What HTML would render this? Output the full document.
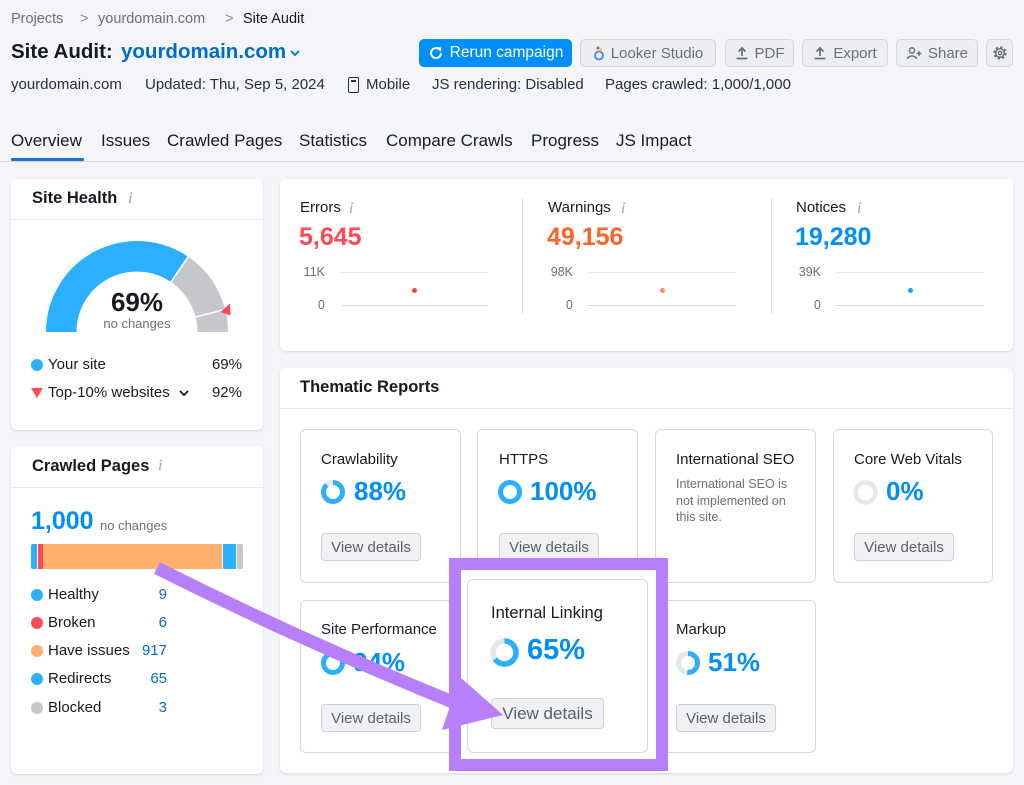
<!DOCTYPE html>
<html><head><meta charset="utf-8">
<style>
*{margin:0;padding:0;box-sizing:border-box}
body{width:1024px;height:785px;overflow:hidden;background:#f4f5f9;font-family:"Liberation Sans",Arial,sans-serif;color:#171a22}
#p{position:relative;width:1024px;height:785px;overflow:hidden;background:#f4f5f9}
.t{position:absolute;white-space:nowrap;line-height:1}
.card{position:absolute;background:#fff;border-radius:6px;box-shadow:0 1px 2px rgba(25,27,35,.14)}
.hdiv{position:absolute;left:0;right:0;height:1px;background:#e6e7ec}
.btn{position:absolute;height:28px;border-radius:5px;background:#eceef2;border:1px solid #d6d8de;color:#6c6e79;font-size:15px;display:flex;align-items:center;justify-content:center;gap:6px;white-space:nowrap}
.box{position:absolute;background:#fff;border:1px solid #d6d8de;border-radius:6px}
.vd{position:absolute;width:100px;height:28px;border:1px solid #cfd1d8;background:#f0f1f4;border-radius:4px;color:#5c5f6a;font-size:15px;display:flex;align-items:center;justify-content:center;white-space:nowrap}
.pct{position:absolute;white-space:nowrap;line-height:1;font-weight:bold;color:#008ff8;font-size:26px}
.info{position:absolute;font-family:"Liberation Serif",serif;font-style:italic;color:#a3a5ad;font-size:16px;line-height:1}
.dot{position:absolute;width:12px;height:12px;border-radius:50%}
.num{position:absolute;width:40px;text-align:right;color:#006dca;font-size:15px;line-height:1}
</style></head><body><div id="p">

<!-- breadcrumb -->
<div class="t" style="left:11px;top:12px;font-size:14.5px;color:#6c6e79">Projects</div>
<div class="t" style="left:80px;top:12px;font-size:14.5px;color:#8a8c95">&gt;</div>
<div class="t" style="left:98px;top:12px;font-size:14.5px;color:#6c6e79">yourdomain.com</div>
<div class="t" style="left:225px;top:12px;font-size:14.5px;color:#8a8c95">&gt;</div>
<div class="t" style="left:243px;top:12px;font-size:14.5px;color:#171a22">Site Audit</div>

<!-- title -->
<div class="t" style="left:11px;top:42px;font-size:20.5px;font-weight:bold">Site Audit:</div>
<div class="t" style="left:121px;top:42px;font-size:20.5px;font-weight:bold;color:#006dca">yourdomain.com</div>
<svg style="position:absolute;left:289px;top:48px" width="12" height="10"><path d="M2 3 L6 7 L10 3" stroke="#006dca" stroke-width="1.8" fill="none"/></svg>

<!-- buttons -->
<div class="btn" style="left:419px;top:39px;width:153px;background:#008ff8;border-color:#008ff8;color:#fff;font-size:15.5px">
<svg width="16" height="16" viewBox="0 0 16 16"><path d="M13 8 A5 5 0 1 1 11.5 4.5" stroke="#fff" stroke-width="2" fill="none"/><path d="M9 2 L13.5 2.5 L12.5 7 Z" fill="#fff"/></svg>Rerun campaign</div>
<div class="btn" style="left:580px;top:39px;width:136px">
<svg width="12" height="16" viewBox="0 0 12 16"><circle cx="6" cy="10.5" r="4" stroke="#4285f4" stroke-width="1.8" fill="none"/><circle cx="5" cy="3" r="1.5" fill="#ea4335"/><circle cx="8" cy="4.5" r="1" fill="#fbbc04"/></svg>Looker Studio</div>
<div class="btn" style="left:725px;top:39px;width:69px">
<svg width="14" height="14" viewBox="0 0 14 14"><path d="M7 10 V2 M3.5 5.5 L7 2 L10.5 5.5 M1.5 12.5 H12.5" stroke="#6c6e79" stroke-width="1.7" fill="none"/></svg>PDF</div>
<div class="btn" style="left:802px;top:39px;width:86px">
<svg width="14" height="14" viewBox="0 0 14 14"><path d="M7 10 V2 M3.5 5.5 L7 2 L10.5 5.5 M1.5 12.5 H12.5" stroke="#6c6e79" stroke-width="1.7" fill="none"/></svg>Export</div>
<div class="btn" style="left:896px;top:39px;width:82px">
<svg width="16" height="14" viewBox="0 0 16 14"><circle cx="6" cy="4.5" r="2.6" stroke="#6c6e79" stroke-width="1.5" fill="none"/><path d="M1.5 13 C1.5 9 10.5 9 10.5 13" stroke="#6c6e79" stroke-width="1.5" fill="none"/><path d="M13 5 V10 M10.5 7.5 H15.5" stroke="#6c6e79" stroke-width="1.5"/></svg>Share</div>
<div class="btn" style="left:986px;top:39px;width:27px">
<svg width="16" height="16" viewBox="0 0 16 16"><circle cx="8" cy="8" r="5.3" stroke="#6c6e79" stroke-width="2.6" stroke-dasharray="2.2 1.95" fill="none"/><circle cx="8" cy="8" r="4.3" stroke="#6c6e79" stroke-width="1.4" fill="none"/><circle cx="8" cy="8" r="1.7" stroke="#6c6e79" stroke-width="1.4" fill="none"/></svg></div>

<!-- meta line -->
<div class="t" style="left:11px;top:77px;font-size:15px;color:#2b2e38">yourdomain.com</div>
<div class="t" style="left:145px;top:77px;font-size:15px;color:#2b2e38">Updated: Thu, Sep 5, 2024</div>
<div style="position:absolute;left:348px;top:77px;width:11px;height:16px;border:1.6px solid #2b2e38;border-radius:2px"></div>
<div style="position:absolute;left:351px;top:80px;width:5px;height:1.5px;background:#2b2e38"></div>
<div class="t" style="left:366px;top:77px;font-size:15px;color:#2b2e38">Mobile</div>
<div class="t" style="left:432px;top:77px;font-size:15px;color:#2b2e38">JS rendering: Disabled</div>
<div class="t" style="left:605px;top:77px;font-size:15px;color:#2b2e38">Pages crawled: 1,000/1,000</div>

<!-- tabs -->
<div class="t" style="left:11px;top:132px;font-size:17px">Overview</div>
<div class="t" style="left:101px;top:132px;font-size:17px">Issues</div>
<div class="t" style="left:167px;top:132px;font-size:17px">Crawled Pages</div>
<div class="t" style="left:299px;top:132px;font-size:17px">Statistics</div>
<div class="t" style="left:386px;top:132px;font-size:17px">Compare Crawls</div>
<div class="t" style="left:531px;top:132px;font-size:17px">Progress</div>
<div class="t" style="left:616px;top:132px;font-size:17px">JS Impact</div>
<div style="position:absolute;left:0;top:161px;width:1024px;height:1px;background:#d3d5db"></div>
<div style="position:absolute;left:11px;top:158px;width:73px;height:3px;background:#1a73d1;border-radius:1px"></div>

<!-- Site Health card -->
<div class="card" style="left:11px;top:179px;width:252px;height:251px">
  <div class="t" style="left:21px;top:11px;font-size:16.5px;font-weight:bold">Site Health</div>
  <div class="info" style="left:117px;top:12px">i</div>
  <div class="hdiv" style="top:40px"></div>
</div>
<svg style="position:absolute;left:0;top:0" width="280" height="440">
  <path d="M61.25 332 A75.75 75.75 0 0 1 179.6 269.4" stroke="#2bb0ff" stroke-width="30.5" fill="none"/>
  <path d="M179.6 269.4 A75.75 75.75 0 0 1 212.75 332" stroke="#c6c7cc" stroke-width="30.5" fill="none"/>
  <line x1="171" y1="282" x2="188.5" y2="256.2" stroke="#fff" stroke-width="1.5"/>
  <line x1="195.6" y1="317" x2="225.5" y2="309.3" stroke="#fff" stroke-width="1.5"/>
  <path d="M230 303.5 L230.5 315.5 L220.5 312 Z" fill="#ff4953"/>
</svg>
<div class="t" style="left:87px;top:289px;width:100px;text-align:center;font-size:26px;font-weight:bold">69%</div>
<div class="t" style="left:87px;top:317px;width:100px;text-align:center;font-size:13px;color:#6c6e79">no changes</div>
<div class="dot" style="left:31px;top:359px;background:#2bb0ff"></div>
<div class="t" style="left:48px;top:357px;font-size:15px">Your site</div>
<div class="t" style="left:192px;top:357px;width:50px;text-align:right;font-size:15px">69%</div>
<svg style="position:absolute;left:31px;top:388px" width="12" height="11"><path d="M0 0 H12 L6 10 Z" fill="#ff4953"/></svg>
<div class="t" style="left:48px;top:385px;font-size:15px">Top-10% websites</div>
<svg style="position:absolute;left:178px;top:389px" width="12" height="9"><path d="M2 2 L6 6 L10 2" stroke="#171a22" stroke-width="1.8" fill="none"/></svg>
<div class="t" style="left:192px;top:385px;width:50px;text-align:right;font-size:15px">92%</div>

<!-- Crawled Pages card -->
<div class="card" style="left:11px;top:446px;width:252px;height:328px">
  <div class="t" style="left:21px;top:12px;font-size:16.5px;font-weight:bold">Crawled Pages</div>
  <div class="info" style="left:147px;top:12px">i</div>
  <div class="hdiv" style="top:41px"></div>
</div>
<div class="t" style="left:31px;top:509px;font-size:25px;font-weight:bold;color:#008ff8">1,000</div>
<div class="t" style="left:100px;top:519px;font-size:13px;color:#6c6e79">no changes</div>
<div style="position:absolute;left:31px;top:544px;width:212px;height:25px;border-radius:2px;overflow:hidden;background:#fff">
  <div style="position:absolute;left:0;top:0;width:5.5px;height:25px;background:#2bb0ff"></div>
  <div style="position:absolute;left:6.5px;top:0;width:5px;height:25px;background:#ff4953"></div>
  <div style="position:absolute;left:12px;top:0;width:179px;height:25px;background:#ffb06e"></div>
  <div style="position:absolute;left:192px;top:0;width:13px;height:25px;background:#2bb0ff"></div>
  <div style="position:absolute;left:206px;top:0;width:6px;height:25px;background:#c6c7cc"></div>
</div>
<div class="dot" style="left:31px;top:589px;background:#2bb0ff"></div>
<div class="t" style="left:48px;top:587px;font-size:15px">Healthy</div>
<div class="num" style="left:127px;top:587px">9</div>
<div class="dot" style="left:31px;top:617px;background:#ff4953"></div>
<div class="t" style="left:48px;top:615px;font-size:15px">Broken</div>
<div class="num" style="left:127px;top:615px">6</div>
<div class="dot" style="left:31px;top:645px;background:#ffb06e"></div>
<div class="t" style="left:48px;top:643px;font-size:15px">Have issues</div>
<div class="num" style="left:127px;top:643px">917</div>
<div class="dot" style="left:31px;top:673px;background:#2bb0ff"></div>
<div class="t" style="left:48px;top:671px;font-size:15px">Redirects</div>
<div class="num" style="left:127px;top:671px">65</div>
<div class="dot" style="left:31px;top:702px;background:#c6c7cc"></div>
<div class="t" style="left:48px;top:700px;font-size:15px">Blocked</div>
<div class="num" style="left:127px;top:700px">3</div>

<!-- Errors / Warnings / Notices card -->
<div class="card" style="left:280px;top:179px;width:733px;height:172px"></div>
<div style="position:absolute;left:522px;top:198px;width:1px;height:116px;background:#dfe0e5"></div>
<div style="position:absolute;left:771px;top:198px;width:1px;height:116px;background:#dfe0e5"></div>

<div class="t" style="left:300px;top:200px;font-size:15px">Errors</div>
<div class="info" style="left:349px;top:201px">i</div>
<div class="t" style="left:299px;top:225px;font-size:25px;font-weight:bold;color:#ff4953">5,645</div>
<div class="t" style="left:285px;top:266px;width:40px;text-align:right;font-size:12.5px;color:#6c6e79">11K</div>
<div class="t" style="left:285px;top:299px;width:40px;text-align:right;font-size:12.5px;color:#6c6e79">0</div>
<div style="position:absolute;left:341px;top:272px;width:147px;height:1px;background:#e2e3e8"></div>
<div style="position:absolute;left:341px;top:305px;width:147px;height:1px;background:#d8d9de"></div>
<div style="position:absolute;left:411.5px;top:287.5px;width:5px;height:5px;border-radius:50%;background:#ff3b3b"></div>

<div class="t" style="left:548px;top:200px;font-size:15px">Warnings</div>
<div class="info" style="left:621px;top:201px">i</div>
<div class="t" style="left:547px;top:225px;font-size:25px;font-weight:bold;color:#ff642d">49,156</div>
<div class="t" style="left:533px;top:266px;width:40px;text-align:right;font-size:12.5px;color:#6c6e79">98K</div>
<div class="t" style="left:533px;top:299px;width:40px;text-align:right;font-size:12.5px;color:#6c6e79">0</div>
<div style="position:absolute;left:588px;top:272px;width:148px;height:1px;background:#e2e3e8"></div>
<div style="position:absolute;left:588px;top:305px;width:148px;height:1px;background:#d8d9de"></div>
<div style="position:absolute;left:659.5px;top:287.5px;width:5px;height:5px;border-radius:50%;background:#ff8c5a"></div>

<div class="t" style="left:796px;top:200px;font-size:15px">Notices</div>
<div class="info" style="left:857px;top:201px">i</div>
<div class="t" style="left:795px;top:225px;font-size:25px;font-weight:bold;color:#008ff8">19,280</div>
<div class="t" style="left:781px;top:266px;width:40px;text-align:right;font-size:12.5px;color:#6c6e79">39K</div>
<div class="t" style="left:781px;top:299px;width:40px;text-align:right;font-size:12.5px;color:#6c6e79">0</div>
<div style="position:absolute;left:836px;top:272px;width:148px;height:1px;background:#e2e3e8"></div>
<div style="position:absolute;left:836px;top:305px;width:148px;height:1px;background:#d8d9de"></div>
<div style="position:absolute;left:907.5px;top:287.5px;width:5px;height:5px;border-radius:50%;background:#1a9bff"></div>

<!-- Thematic Reports -->
<div class="card" style="left:280px;top:368px;width:733px;height:405px">
  <div class="t" style="left:20px;top:11px;font-size:16.5px;font-weight:bold">Thematic Reports</div>
  <div class="hdiv" style="top:40px"></div>
</div>

<!-- Row 1 -->
<div class="box" style="left:300px;top:429px;width:161px;height:154px"></div>
<div class="t" style="left:321px;top:452px;font-size:15px">Crawlability</div>
<svg style="position:absolute;left:321px;top:480px" width="24" height="24"><circle cx="12" cy="12" r="9.5" stroke="#e6e7eb" stroke-width="5" fill="none"/><circle cx="12" cy="12" r="9.5" stroke="#2bb0ff" stroke-width="5" fill="none" stroke-dasharray="52.5 100" transform="rotate(-90 12 12)"/></svg>
<div class="pct" style="left:354px;top:478px">88%</div>
<div class="vd" style="left:321px;top:533px">View details</div>

<div class="box" style="left:477px;top:429px;width:161px;height:154px"></div>
<div class="t" style="left:499px;top:452px;font-size:15px">HTTPS</div>
<svg style="position:absolute;left:498px;top:480px" width="24" height="24"><circle cx="12" cy="12" r="9.5" stroke="#2bb0ff" stroke-width="5" fill="none"/></svg>
<div class="pct" style="left:530px;top:478px">100%</div>
<div class="vd" style="left:499px;top:533px">View details</div>

<div class="box" style="left:655px;top:429px;width:161px;height:154px"></div>
<div class="t" style="left:676px;top:452px;font-size:15px">International SEO</div>
<div class="t" style="left:676px;top:478px;font-size:12.5px;color:#6c6e79">International SEO is</div>
<div class="t" style="left:676px;top:495px;font-size:12.5px;color:#6c6e79">not implemented on</div>
<div class="t" style="left:676px;top:511px;font-size:12.5px;color:#6c6e79">this site.</div>

<div class="box" style="left:833px;top:429px;width:160px;height:154px"></div>
<div class="t" style="left:854px;top:452px;font-size:15px">Core Web Vitals</div>
<svg style="position:absolute;left:853px;top:480px" width="25" height="25"><circle cx="12.5" cy="12.5" r="10" stroke="#e6e7eb" stroke-width="4.5" fill="none"/></svg>
<div class="pct" style="left:886px;top:478px">0%</div>
<div class="vd" style="left:854px;top:533px">View details</div>

<!-- Row 2 -->
<div class="box" style="left:300px;top:600px;width:161px;height:153px"></div>
<div class="t" style="left:321px;top:622px;font-size:15px">Site Performance</div>
<svg style="position:absolute;left:321px;top:651px" width="24" height="24"><circle cx="12" cy="12" r="9.5" stroke="#e6e7eb" stroke-width="5" fill="none"/><circle cx="12" cy="12" r="9.5" stroke="#2bb0ff" stroke-width="5" fill="none" stroke-dasharray="56.1 100" transform="rotate(-90 12 12)"/></svg>
<div class="pct" style="left:353px;top:649px">94%</div>
<div class="vd" style="left:321px;top:704px">View details</div>

<div class="box" style="left:655px;top:600px;width:161px;height:153px"></div>
<div class="t" style="left:676px;top:622px;font-size:15px">Markup</div>
<svg style="position:absolute;left:676px;top:651px" width="24" height="24"><circle cx="12" cy="12" r="9.5" stroke="#e6e7eb" stroke-width="5" fill="none"/><circle cx="12" cy="12" r="9.5" stroke="#2bb0ff" stroke-width="5" fill="none" stroke-dasharray="30.4 100" transform="rotate(-90 12 12)"/></svg>
<div class="pct" style="left:708px;top:649px">51%</div>
<div class="vd" style="left:676px;top:704px">View details</div>

<!-- highlight frame -->
<div style="position:absolute;left:449px;top:558px;width:219px;height:213px;border:12px solid #b77ffb;background:#fff"></div>
<div class="box" style="left:467px;top:579px;width:181px;height:174px"></div>
<div class="t" style="left:491px;top:605px;font-size:16.5px">Internal Linking</div>
<svg style="position:absolute;left:490px;top:638px" width="29" height="29"><circle cx="14.5" cy="14.5" r="11.5" stroke="#e6e7eb" stroke-width="5.5" fill="none"/><circle cx="14.5" cy="14.5" r="11.5" stroke="#2bb0ff" stroke-width="5.5" fill="none" stroke-dasharray="47 100" transform="rotate(-90 14.5 14.5)"/></svg>
<div class="pct" style="left:527px;top:636px;font-size:29px">65%</div>
<div class="vd" style="left:491px;top:698px;width:113px;height:31px;font-size:17px">View details</div>

<!-- arrow -->
<svg style="position:absolute;left:0;top:0" width="1024" height="785">
  <path d="M157 568 Q300 640 455 703" stroke="#b77ffb" stroke-width="13" fill="none" stroke-linecap="butt"/>
  <path d="M460 677 L503 715 L442 730 Z" fill="#b77ffb"/>
</svg>

</div></body></html>
